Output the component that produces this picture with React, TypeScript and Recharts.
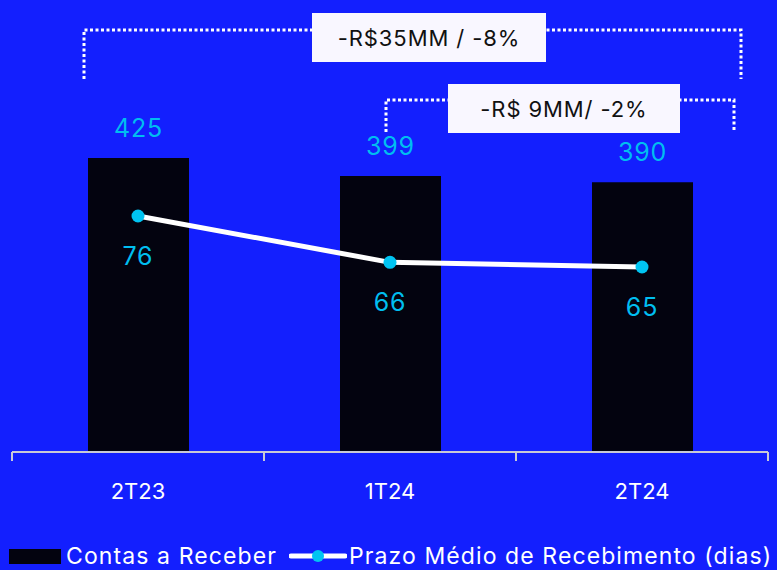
import React from 'react';
import { ComposedChart, Bar, Line, XAxis, YAxis, LabelList } from 'recharts';

const categories = ['2T23', '1T24', '2T24'];
const contasReceber = [425, 399, 390];
const prazoMedio = [76, 66, 65];
const seriesNames = ['Contas a Receber', 'Prazo Médio de Recebimento (dias)'];
const annotations = ['-R$35MM / -8%', '-R$ 9MM/ -2%'];

const data = categories.map((c, i) => ({ name: c, contas: contasReceber[i], prazo: prazoMedio[i] }));

const BG = '#131FFE';
const CYAN = '#00BEF0';
const DOT = '#00C4F2';
const FONT = 'Inter, "Noto Sans", sans-serif';

const TICK_SIZE = 9;
const TICK_MARGIN = 22;

const EdgeTick = (props: any) => {
  const { x, y, payload, index, visibleTicksCount } = props;
  const axisY = y - TICK_SIZE - TICK_MARGIN;
  const half = payload.offset || 0;
  return (
    <g>
      <line x1={x - half} x2={x - half} y1={axisY} y2={axisY + TICK_SIZE} stroke="#C9C9D6" strokeWidth={2} />
      {index === visibleTicksCount - 1 && (
        <line x1={x + half} x2={x + half} y1={axisY} y2={axisY + TICK_SIZE} stroke="#C9C9D6" strokeWidth={2} />
      )}
      <text x={x} y={y} dy="0.71em" textAnchor="middle" fill="#FFFFFF" fontSize={22} fontFamily={FONT}>
        {payload.value}
      </text>
    </g>
  );
};

const Annotations = () => (
  <svg width={777} height={570} style={{ position: 'absolute', left: 0, top: 0, pointerEvents: 'none' }}>
    <polyline points="84,79 84,30 741,30 741,79" fill="none" stroke="#FFFFFF" strokeWidth={3} strokeDasharray="3 2.5" />
    <rect x={312} y={13} width={234} height={49} fill="#F9F7FF" />
    <text x={429} y={38} textAnchor="middle" dominantBaseline="central" fontSize={22} letterSpacing={0.9} fill="#111111" fontFamily={FONT}>
      {annotations[0]}
    </text>
    <polyline points="386,132 386,100 734,100 734,132" fill="none" stroke="#FFFFFF" strokeWidth={3} strokeDasharray="3 2.5" />
    <rect x={448} y={84} width={232} height={49} fill="#F9F7FF" />
    <text x={564} y={109} textAnchor="middle" dominantBaseline="central" fontSize={22} letterSpacing={0.9} fill="#111111" fontFamily={FONT}>
      {annotations[1]}
    </text>
  </svg>
);

const LegendBox = () => (
  <div
    style={{
      position: 'absolute',
      left: 9,
      top: 543,
      display: 'flex',
      alignItems: 'center',
      whiteSpace: 'nowrap',
      fontFamily: FONT,
      fontSize: 23,
      letterSpacing: '1.1px',
      color: '#FFFFFF',
      lineHeight: '26px',
    }}
  >
    <span style={{ display: 'inline-block', width: 52, height: 15, background: '#03030F', marginRight: 5 }} />
    <span>{seriesNames[0]}</span>
    <svg width={58} height={20} style={{ marginLeft: 12, marginRight: 2 }}>
      <line x1={2} x2={56} y1={10} y2={10} stroke="#FFFFFF" strokeWidth={5} strokeLinecap="round" />
      <circle cx={29} cy={10} r={6} fill={DOT} />
    </svg>
    <span>{seriesNames[1]}</span>
  </div>
);

export default function App() {
  return (
    <div style={{ position: 'absolute', left: 0, top: 0, width: 777, height: 570, background: BG, overflow: 'hidden' }}>
      <ComposedChart width={777} height={570} data={data} margin={{ top: 37, right: 9, bottom: 0, left: 12 }}>
        <XAxis
          dataKey="name"
          height={118}
          axisLine={{ stroke: '#C9C9D6', strokeWidth: 2 }}
          tickLine={false}
          tickSize={TICK_SIZE}
          tickMargin={TICK_MARGIN}
          tick={<EdgeTick />}
          interval={0}
        />
        <YAxis yAxisId="left" hide domain={[0, 600]} />
        <YAxis yAxisId="right" orientation="right" hide domain={[25.1, 114.6]} />
        <Bar yAxisId="left" dataKey="contas" name={seriesNames[0]} fill="#03030F" barSize={101} isAnimationActive={false}>
          <LabelList dataKey="contas" position="top" offset={21} fill={CYAN} fontSize={25} letterSpacing={0.8} fontFamily={FONT} />
        </Bar>
        <Line
          yAxisId="right"
          dataKey="prazo"
          name={seriesNames[1]}
          stroke="#FFFFFF"
          strokeWidth={5}
          dot={{ r: 6.5, fill: DOT, stroke: 'none' }}
          activeDot={false}
          isAnimationActive={false}
        >
          <LabelList dataKey="prazo" position="bottom" offset={31} fill={CYAN} fontSize={25} letterSpacing={0.8} fontFamily={FONT} />
        </Line>
      </ComposedChart>
      <Annotations />
      <LegendBox />
    </div>
  );
}
